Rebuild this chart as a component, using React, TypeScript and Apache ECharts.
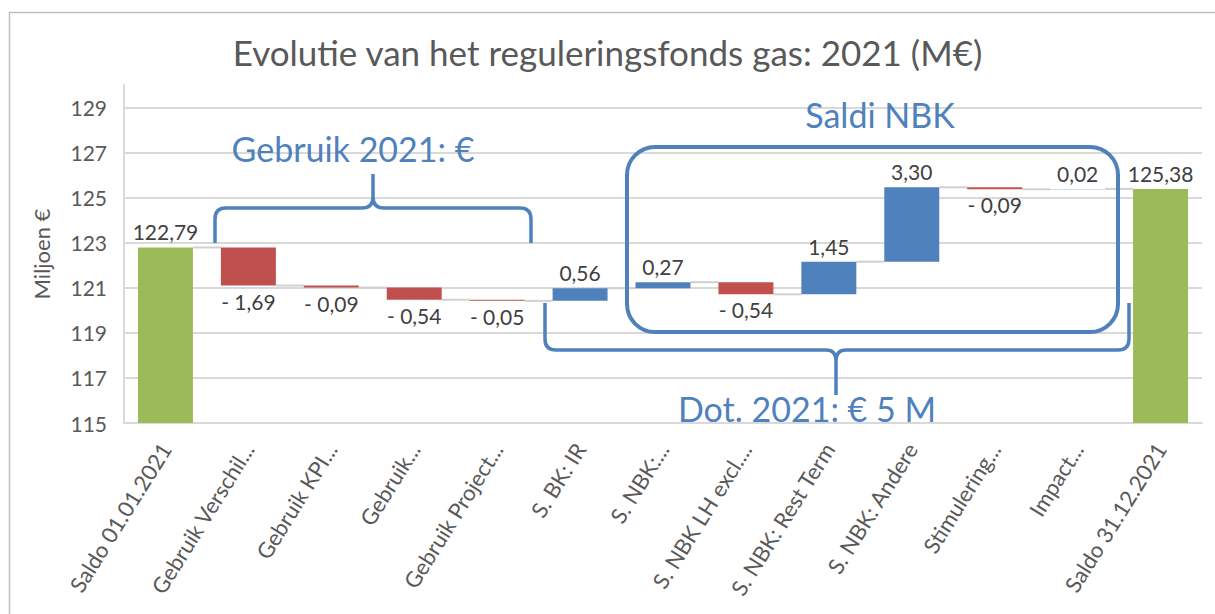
import React, { useEffect, useRef } from 'react';
import * as echarts from 'echarts';

// ---------- data ----------
const categories = [
  'Saldo 01.01.2021',
  'Gebruik Verschil...',
  'Gebruik KPI...',
  'Gebruik...',
  'Gebruik Project...',
  'S. BK: IR',
  'S. NBK:...',
  'S. NBK LH excl....',
  'S. NBK: Rest Term',
  'S. NBK: Andere',
  'Stimulering...',
  'Impact...',
  'Saldo 31.12.2021',
];
const openingBalance = 122.79;
const closingBalance = 125.38;
const changes = [-1.69, -0.09, -0.54, -0.05, 0.56, 0.27, -0.54, 1.45, 3.3, -0.09, 0.02];
const axisBase = 115; // lowest tick label
const axisTop = 130; // top of value axis
const tickStep = 2;

const titleText = 'Evolutie van het reguleringsfonds gas: 2021 (M€)';
const axisName = 'Miljoen €';
const noteUse = 'Gebruik 2021: €';
const noteNbk = 'Saldi NBK';
const noteDot = 'Dot. 2021: € 5 M';

// ---------- styling ----------
const GREEN = '#9BBB59';
const RED = '#C0504D';
const BLUE = '#4F81BD';
const GRID = '#d9d9d9';
const FONT = 'Lato, "Open Sans", sans-serif';

const fmt = (v: number) => v.toFixed(2).replace('.', ',');

// waterfall pieces derived from the data
const bases: number[] = [];
const heights: number[] = [];
const colors: string[] = [];
const labels: string[] = [];
const positions: string[] = [];
const levels: number[] = [];
{
  bases.push(0);
  heights.push(openingBalance - axisBase);
  colors.push(GREEN);
  labels.push(fmt(openingBalance));
  positions.push('top');
  let lvl = openingBalance;
  levels.push(lvl);
  changes.forEach((d) => {
    const next = lvl + d;
    bases.push(Math.min(lvl, next) - axisBase);
    heights.push(Math.abs(d));
    colors.push(d < 0 ? RED : BLUE);
    labels.push(d < 0 ? '- ' + fmt(-d) : fmt(d));
    positions.push(d < 0 ? 'bottom' : 'top');
    lvl = next;
    levels.push(lvl);
  });
  bases.push(0);
  heights.push(closingBalance - axisBase);
  colors.push(GREEN);
  labels.push(fmt(closingBalance));
  positions.push('top');
}

const BAR_FRACTION = 0.663;

const braceTopD =
  'M215,243 L215,219 Q215,208 226,208 L362,208 Q373,208 373,197 L373,174 M373,197 Q373,208 384,208 L520,208 Q531,208 531,219 L531,243';
const braceBottomD =
  'M545,303 L545,339 Q545,350 556,350 L826,350 Q836,350 836,361 L836,395 M836,361 Q836,350 846,350 L1118,350 Q1129,350 1129,339 L1129,303';

let registered = false;
function registerShapes() {
  if (registered) return;
  registered = true;
  echarts.graphic.registerShape('braceTop', echarts.graphic.extendPath(braceTopD, {}));
  echarts.graphic.registerShape('braceBottom', echarts.graphic.extendPath(braceBottomD, {}));
}

export default function App() {
  const ref = useRef<HTMLDivElement>(null);

  useEffect(() => {
    if (!ref.current) return;
    registerShapes();
    const chart = echarts.init(ref.current, null, { renderer: 'svg' });
    const option: any = {
      animation: false,
      backgroundColor: '#ffffff',
      title: {
        text: titleText,
        left: 'center',
        top: 29,
        textStyle: { fontFamily: FONT, fontSize: 35, fontWeight: 'normal', color: '#595959' },
      },
      grid: { left: 124, right: 13, top: 85, bottom: 191, containLabel: false },
      xAxis: {
        type: 'category',
        data: categories,
        axisLine: { show: true, lineStyle: { color: GRID, width: 2 } },
        axisTick: { show: false },
        axisLabel: {
          interval: 0,
          rotate: 58,
          fontFamily: FONT,
          fontSize: 22,
          color: '#595959',
          margin: 22,
        },
      },
      yAxis: {
        type: 'value',
        min: 0,
        max: axisTop - axisBase,
        interval: tickStep,
        name: axisName,
        nameLocation: 'middle',
        nameRotate: 90,
        nameGap: 72,
        nameTextStyle: { fontFamily: FONT, fontSize: 22, color: '#595959' },
        axisLine: { show: true, lineStyle: { color: GRID, width: 2 } },
        axisTick: { show: false },
        splitLine: { show: true, showMaxLine: false, lineStyle: { color: GRID, width: 2 } },
        axisLabel: {
          formatter: (v: number) => (v >= axisTop - axisBase ? '' : String(v + axisBase)),
          fontFamily: FONT,
          fontSize: 21,
          color: '#595959',
          margin: 17,
        },
      },
      series: [
        {
          type: 'bar',
          stack: 'w',
          data: bases,
          silent: true,
          itemStyle: { color: 'transparent' },
          barCategoryGap: ((1 - BAR_FRACTION) * 100).toFixed(1) + '%',
        },
        {
          type: 'bar',
          stack: 'w',
          data: heights.map((h, i) => ({
            value: h,
            itemStyle: { color: colors[i] },
            label: { position: positions[i] },
          })),
          label: {
            show: true,
            formatter: (p: any) => labels[p.dataIndex],
            fontFamily: FONT,
            fontSize: 21,
            color: '#404040',
            distance: 5,
          },
        },
        {
          type: 'custom',
          silent: true,
          z: 1,
          data: levels.map((l, i) => [i, l - axisBase]),
          renderItem: (params: any, api: any) => {
            const i = api.value(0);
            const v = api.value(1);
            const p = api.coord([i, v]);
            const band = api.size([1, 0])[0];
            const bw = band * BAR_FRACTION;
            return {
              type: 'line',
              shape: { x1: p[0] + bw / 2, y1: p[1], x2: p[0] + band - bw / 2, y2: p[1] },
              style: { stroke: '#d0d0d0', lineWidth: 2 },
            };
          },
        },
      ],
      graphic: [
        {
          type: 'polyline',
          silent: true,
          z: 0,
          shape: { points: [[9.5, 614], [9.5, 12.5], [1215, 12.5]] },
          style: { fill: 'none', stroke: '#bfbfbf', lineWidth: 1.5 },
        },
        {
          type: 'braceTop',
          x: 0,
          y: 0,
          z: 10,
          silent: true,
          style: { fill: 'none', stroke: BLUE, lineWidth: 3.5 },
        },
        {
          type: 'braceBottom',
          x: 0,
          y: 0,
          z: 10,
          silent: true,
          style: { fill: 'none', stroke: BLUE, lineWidth: 3.5 },
        },
        {
          type: 'rect',
          z: 10,
          silent: true,
          shape: { x: 627, y: 147, width: 491, height: 185, r: 28 },
          style: { fill: 'none', stroke: BLUE, lineWidth: 4 },
        },
        {
          type: 'text',
          x: 353,
          y: 148,
          z: 10,
          silent: true,
          style: { text: noteUse, fill: BLUE, fontFamily: FONT, fontSize: 34, align: 'center', verticalAlign: 'middle' },
        },
        {
          type: 'text',
          x: 880,
          y: 114,
          z: 10,
          silent: true,
          style: { text: noteNbk, fill: BLUE, fontFamily: FONT, fontSize: 34, align: 'center', verticalAlign: 'middle' },
        },
        {
          type: 'text',
          x: 807,
          y: 408,
          z: 10,
          silent: true,
          style: { text: noteDot, fill: BLUE, fontFamily: FONT, fontSize: 34, align: 'center', verticalAlign: 'middle' },
        },
      ],
    };
    chart.setOption(option);
    return () => chart.dispose();
  }, []);

  return (
    <div
      ref={ref}
      style={{ position: 'fixed', left: 0, top: 0, width: 1215, height: 614, background: '#fff' }}
    />
  );
}
